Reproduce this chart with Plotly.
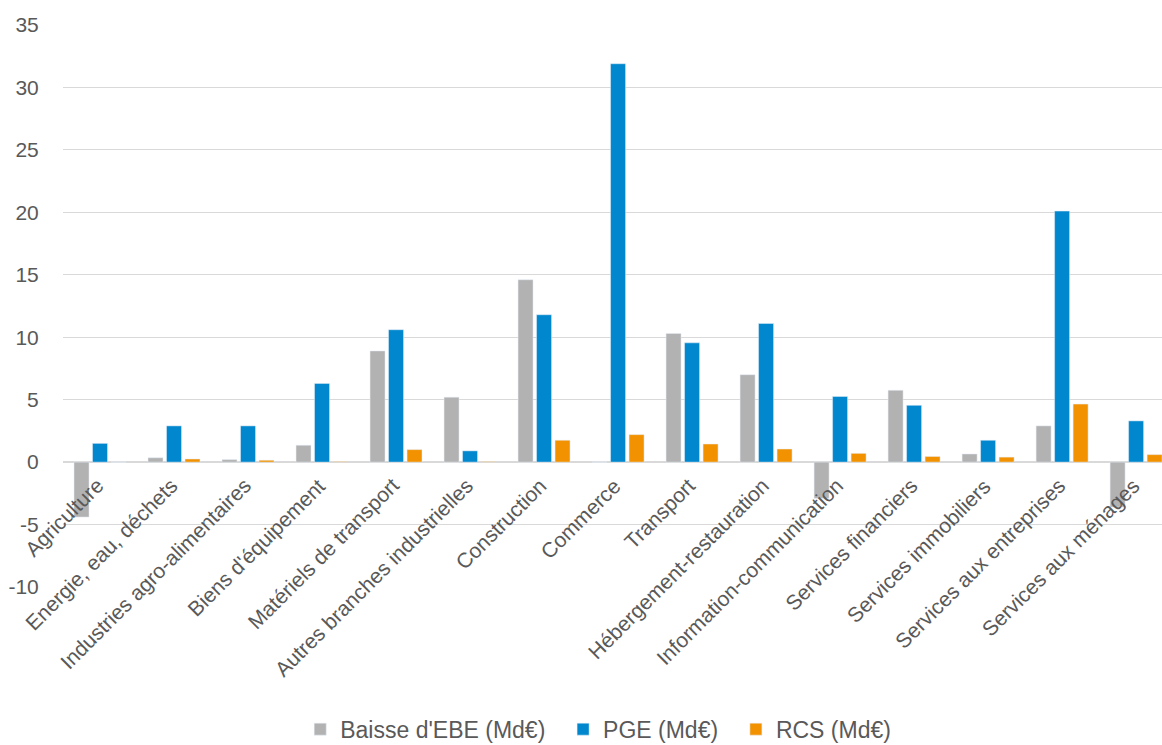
import plotly.graph_objects as go

# Données (Md€) par branche
branches = [
    "Agriculture", "Energie, eau, déchets", "Industries agro-alimentaires",
    "Biens d'équipement", "Matériels de transport", "Autres branches industrielles",
    "Construction", "Commerce", "Transport", "Hébergement-restauration",
    "Information-communication", "Services financiers", "Services immobiliers",
    "Services aux entreprises", "Services aux ménages",
]
baisse_ebe = [-4.4, 0.35, 0.2, 1.35, 8.9, 5.2, 14.6, 0.0, 10.3, 7.0, -2.9, 5.75, 0.65, 2.9, -3.6]
pge = [1.5, 2.9, 2.9, 6.3, 10.6, 0.9, 11.8, 31.9, 9.55, 11.1, 5.25, 4.55, 1.75, 20.1, 3.3]
rcs = [0.0, 0.25, 0.15, 0.05, 1.0, 0.05, 1.75, 2.2, 1.45, 1.05, 0.7, 0.45, 0.4, 4.65, 0.6]

y_ticks = [-10, -5, 0, 5, 10, 15, 20, 25, 30, 35]
y_labels = ["-10", "-5", "0", "5", "10", "15", "20", "25", "30", "35"]

FONT = "Liberation Sans, Arial, sans-serif"
TXT = "#595959"
SP = "\u00a0\u00a0"

fig = go.Figure()
fig.add_trace(go.Bar(x=branches, y=baisse_ebe, name="Baisse d'EBE (Md€)" + SP, marker_color="#B2B2B2"))
fig.add_trace(go.Bar(x=branches, y=pge, name="PGE (Md€)" + SP, marker_color="#0087CD"))
fig.add_trace(go.Bar(x=branches, y=rcs, name="RCS (Md€)", marker_color="#F39200"))

# étiquettes de catégories placées le long de l'axe zéro, à 45°
for b in branches:
    fig.add_annotation(x=b, y=0, xref="x", yref="y", text=b, showarrow=False,
                       textangle=-45, xanchor="right", yanchor="top",
                       xshift=10, yshift=-9, font=dict(family=FONT, size=21, color=TXT))

fig.update_layout(
    width=1162, height=745,
    margin=dict(l=63, r=0, t=25, b=158, autoexpand=False),
    plot_bgcolor="white", paper_bgcolor="white",
    barmode="group", bargap=0.25, bargroupgap=0.19,
    font=dict(family=FONT, size=21, color=TXT),
    legend=dict(orientation="h", x=0.487, xanchor="center", y=-0.253, yanchor="middle",
                font=dict(size=23, color=TXT), itemwidth=30),
    # le graphique d'origine est rogné à droite : la dernière catégorie déborde
    xaxis=dict(range=[-0.5, 14.35], showticklabels=False, showgrid=False,
               zeroline=False, showline=False, automargin=False),
    yaxis=dict(range=[-10, 35], tickvals=y_ticks, ticktext=y_labels, showgrid=True,
               gridcolor="#D9D9D9", gridwidth=1, zeroline=True, zerolinecolor="#D9D9D9",
               zerolinewidth=1.5, ticks="outside", ticklen=19, tickcolor="rgba(0,0,0,0)",
               tickfont=dict(size=21, color=TXT), automargin=False),
)

fig.write_html("out.html", config={"displayModeBar": False},
               post_script="document.body.style.margin='0';")
